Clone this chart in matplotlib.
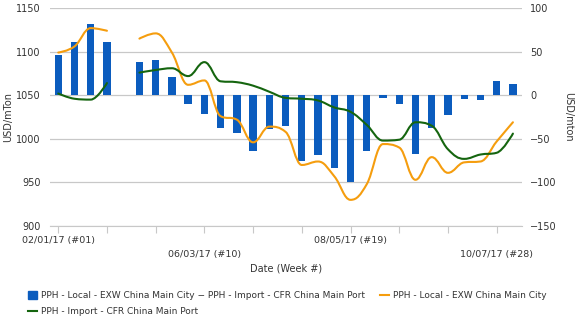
import matplotlib
matplotlib.use("Agg")
import matplotlib.pyplot as plt
import numpy as np
from matplotlib.path import Path
from matplotlib.patches import PathPatch, Patch
from matplotlib.lines import Line2D

weeks = list(range(1, 30))
nan = float("nan")

# spread local - import (right axis, USD/mton); week 5 missing
spread = [46, 61, 82, 61, nan, 38, 41, 21, -10, -21, -38, -43, -64, -39, -35,
          -76, -69, -83, -100, -64, -3, -10, -67, -37, -23, -4, -6, 16, 13]
# local EXW price (left axis, USD/mTon)
local = [1099, 1106, 1127, 1124, nan, 1115, 1121, 1099, 1062, 1067, 1026, 1022,
         996, 1014, 1008, 970, 974, 957, 930, 948, 994, 990, 953, 979, 961,
         973, 974, 997, 1019]
# import CFR price (left axis, USD/mTon)
imports = [1052, 1046, 1045, 1064, nan, 1076, 1079, 1081, 1072, 1088, 1066, 1065,
           1061, 1054, 1047, 1046, 1044, 1036, 1031, 1016, 998, 999, 1019, 1015,
           988, 977, 982, 984, 1006]

tick_weeks = list(range(1, 29, 3))
tick_text = {1: "02/01/17 (#01)", 10: "\n06/03/17 (#10)",
             19: "08/05/17 (#19)", 28: "\n10/07/17 (#28)"}

BLUE = "#0b5cbe"
ORANGE = "#f59d0e"
GREEN = "#15650f"
GRID = "#c8c8c8"
TXT = "#333333"


def spline_path(xs, ys, smoothing=1.5):
    # highcharts style spline, one path per unbroken run
    verts, codes = [], []
    runs, cur = [], []
    for x, y in zip(xs, ys):
        if np.isnan(y):
            if cur:
                runs.append(cur)
            cur = []
        else:
            cur.append((x, y))
    if cur:
        runs.append(cur)
    for pts in runs:
        n = len(pts)
        ctrl = []
        for i in range(n):
            x, y = pts[i]
            if i == 0 or i == n - 1:
                ctrl.append(((x, y), (x, y)))
                continue
            lx, ly = pts[i - 1]
            nx, ny = pts[i + 1]
            lcx = (smoothing * x + lx) / (smoothing + 1)
            lcy = (smoothing * y + ly) / (smoothing + 1)
            rcx = (smoothing * x + nx) / (smoothing + 1)
            rcy = (smoothing * y + ny) / (smoothing + 1)
            corr = (rcy - lcy) * (rcx - x) / (rcx - lcx) + y - rcy
            lcy += corr
            rcy += corr
            if lcy > ly and lcy > y:
                lcy = max(ly, y)
                rcy = 2 * y - lcy
            elif lcy < ly and lcy < y:
                lcy = min(ly, y)
                rcy = 2 * y - lcy
            if rcy > ny and rcy > y:
                rcy = max(ny, y)
                lcy = 2 * y - rcy
            elif rcy < ny and rcy < y:
                rcy = min(ny, y)
                lcy = 2 * y - rcy
            ctrl.append(((lcx, lcy), (rcx, rcy)))
        verts.append(pts[0])
        codes.append(Path.MOVETO)
        for i in range(1, n):
            verts += [ctrl[i - 1][1], ctrl[i][0], pts[i]]
            codes += [Path.CURVE4] * 3
    return Path(verts, codes)


plt.rcParams["font.family"] = "DejaVu Sans"
fig = plt.figure(figsize=(5.76, 3.24), dpi=100)
ax2 = fig.add_axes([0.087, 0.3025, 0.819, 0.6725])
ax = ax2.twinx()
ax.yaxis.tick_left()
ax.yaxis.set_label_position("left")
ax2.yaxis.tick_right()
ax2.yaxis.set_label_position("right")
ax.set_zorder(ax2.get_zorder() + 1)
ax.patch.set_visible(False)

ax2.bar(weeks, spread, width=0.45, color=BLUE, zorder=2)
ax2.set_ylim(-150, 100)
ax2.set_yticks([100, 50, 0, -50, -100, -150])
ax2.grid(axis="y", color=GRID, linewidth=0.9)
ax2.set_axisbelow(True)

for vals, col in [(local, ORANGE), (imports, GREEN)]:
    ax.add_patch(PathPatch(spline_path(weeks, vals), facecolor="none",
                           edgecolor=col, linewidth=1.5, capstyle="round"))
ax.set_ylim(900, 1150)
ax.set_yticks([900, 950, 1000, 1050, 1100, 1150])
ax.set_xlim(0.5, 29.55)

ax2.set_xticks(tick_weeks)
ax2.set_xticklabels([tick_text.get(w, "") for w in tick_weeks])

for a in (ax, ax2):
    for s in a.spines.values():
        s.set_visible(False)
    a.tick_params(axis="y", length=0, labelsize=7, labelcolor=TXT)
ax.tick_params(axis="y", pad=7)
ax2.tick_params(axis="y", pad=6)
ax2.spines["bottom"].set_visible(True)
ax2.spines["bottom"].set_color(GRID)
ax2.tick_params(axis="x", length=5, color=GRID, labelsize=6.8,
                labelcolor=TXT, pad=2)
for lbl in ax2.get_xticklabels():
    lbl.set_horizontalalignment("center")
    lbl.set_linespacing(1.75)

ax.set_ylabel("USD/mTon", fontsize=7, color=TXT, labelpad=2)
ax2.set_ylabel("USD/mton", fontsize=7, color=TXT, rotation=270, labelpad=12)
ax2.set_xlabel("Date (Week #)", fontsize=7, color=TXT, labelpad=3)

handles = [Patch(color=BLUE),
           Line2D([], [], color=GREEN, linewidth=1.5),
           Line2D([], [], color=ORANGE, linewidth=1.5)]
labels = ["PPH - Local - EXW China Main City \u2212 PPH - Import - CFR China Main Port",
          "PPH - Import - CFR China Main Port",
          "PPH - Local - EXW China Main City"]
leg = fig.legend(handles, labels, ncol=2, loc="upper left",
                 bbox_to_anchor=(0.042, 0.112), frameon=False, fontsize=6.5,
                 handlelength=1.0, handleheight=1.0, handletextpad=0.5,
                 columnspacing=1.6, labelspacing=0.75, borderaxespad=0)
for t in leg.get_texts():
    t.set_color(TXT)

fig.savefig("out.png", dpi=100)
